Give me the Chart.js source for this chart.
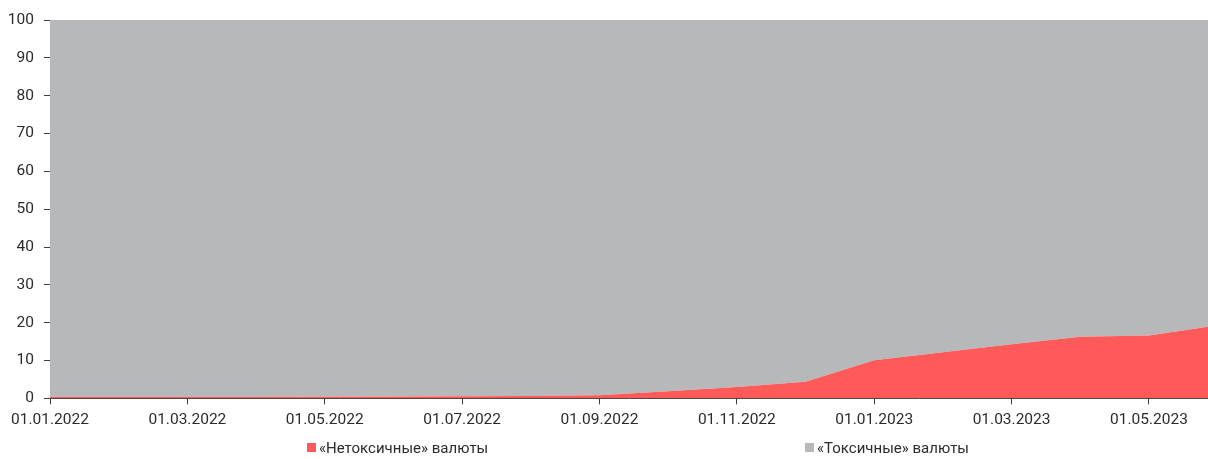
<!DOCTYPE html>
<html>
<head>
<meta charset="utf-8">
<script src="https://cdn.jsdelivr.net/npm/chart.js@4.4.1/dist/chart.umd.min.js"></script>
<style>
  html, body { margin: 0; padding: 0; background: #fff; overflow: hidden; }
  #wrap { position: relative; width: 1208px; height: 459px; }
  canvas { display: block; }
  .leg { position: absolute; top: 439px; font-family: Roboto, "Liberation Sans", sans-serif; font-size: 15px; color: #2b2b2b; white-space: nowrap; line-height: 18px; }
  .leg span.box { display: inline-block; width: 9px; height: 9px; margin-right: 3px; vertical-align: 1px; }
</style>
</head>
<body>
<div id="wrap">
  <canvas id="c" width="1208" height="459"></canvas>
  <div class="leg" style="left:307px"><span class="box" style="background:#FF5A5A"></span>«Нетоксичные» валюты</div>
  <div class="leg" style="left:805px"><span class="box" style="background:#B7B8BA"></span>«Токсичные» валюты</div>
</div>
<script>
// Month-start dates of observations
const categories = ['01.01.2022','01.02.2022','01.03.2022','01.04.2022','01.05.2022','01.06.2022',
  '01.07.2022','01.08.2022','01.09.2022','01.10.2022','01.11.2022','01.12.2022',
  '01.01.2023','01.02.2023','01.03.2023','01.04.2023','01.05.2023','01.06.2023'];
// Share of "non-toxic" currencies, %
const nonToxic = [0.35, 0.35, 0.35, 0.4, 0.45, 0.5, 0.55, 0.65, 0.8, 1.9, 3.0, 4.4, 10.1, 12.2, 14.3, 16.3, 16.6, 19.3];
// Share of "toxic" currencies, %
const toxic = [99.65, 99.65, 99.65, 99.6, 99.55, 99.5, 99.45, 99.35, 99.2, 98.1, 97.0, 95.6, 89.9, 87.8, 85.7, 83.7, 83.4, 80.7];
const yTicks = [0,10,20,30,40,50,60,70,80,90,100];
const seriesNames = ['«Нетоксичные» валюты', '«Токсичные» валюты'];

const toPts = arr => arr.map((v, i) => ({x: i, y: v}));
const font = {family: 'Roboto, "Liberation Sans", sans-serif', size: 15.5};
const axisColor = '#404040';

new Chart(document.getElementById('c'), {
  type: 'line',
  data: {
    datasets: [
      {label: seriesNames[0], data: toPts(nonToxic), backgroundColor: '#FF5A5A', borderWidth: 0, fill: 'origin', pointRadius: 0, tension: 0},
      {label: seriesNames[1], data: toPts(toxic), backgroundColor: '#B7B8BA', borderWidth: 0, fill: '-1', pointRadius: 0, tension: 0}
    ]
  },
  options: {
    responsive: false,
    animation: false,
    layout: {padding: {top: 20, right: 0, bottom: 24, left: 0}},
    plugins: {legend: {display: false}, tooltip: {enabled: false}},
    scales: {
      x: {
        type: 'linear', min: 0, max: 16.86, z: 1,
        afterBuildTicks: s => { s.ticks = categories.map((c, i) => ({value: i})).filter(t => t.value % 2 === 0 && t.value <= 16); },
        ticks: {font, color: '#2b2b2b', padding: 6, maxRotation: 0, autoSkip: false, callback: v => categories[v]},
        grid: {display: true, drawOnChartArea: false, drawTicks: true, tickLength: 6, color: axisColor, tickColor: axisColor},
        border: {display: true, color: axisColor, width: 1}
      },
      y: {
        stacked: true, min: 0, max: 100, z: 1,
        afterBuildTicks: s => { s.ticks = yTicks.map(v => ({value: v})); },
        afterFit: s => { s.width = 50; },
        ticks: {font, color: '#2b2b2b', padding: 10},
        grid: {display: true, drawOnChartArea: false, drawTicks: true, tickLength: 6, color: axisColor, tickColor: axisColor},
        border: {display: true, color: axisColor, width: 1}
      }
    }
  }
});
</script>
</body>
</html>
